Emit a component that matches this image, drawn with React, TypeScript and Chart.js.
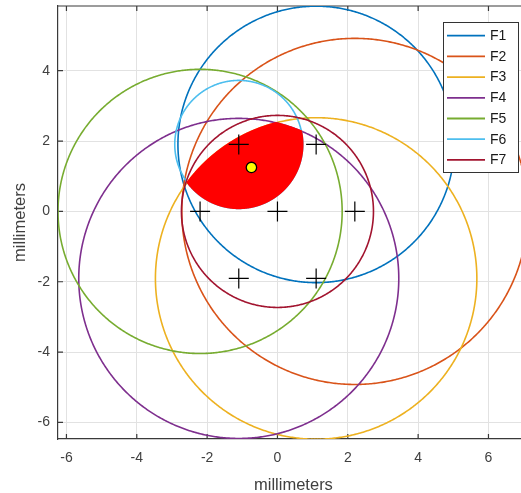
import { useEffect, useRef } from "react";
import { Chart, registerables } from "chart.js";

Chart.register(...registerables);

// Circle series: centre coordinates and radii (millimeters)
const seriesNames = ["F1", "F2", "F3", "F4", "F5", "F6", "F7"];
const centerX = [1.1, 2.2, 1.1, -1.1, -2.2, -1.1, 0];
const centerY = [1.905, 0, -1.905, -1.905, 0, 1.905, 0];
const radii = [3.93, 4.92, 4.57, 4.55, 4.04, 1.82, 2.73];
const seriesColors = ["#0072BD", "#D95319", "#EDB120", "#7E2F8E", "#77AC30", "#4DBEEE", "#A2142F"];

// Sensor positions (plus markers)
const markerX = [-1.1, 1.1, -2.2, 0, 2.2, -1.1, 1.1];
const markerY = [1.905, 1.905, 0, 0, 0, -1.905, -1.905];

// Estimated location (yellow dot)
const estimateX = [-0.74];
const estimateY = [1.25];

// Axes
const xTicks = [-6, -4, -2, 0, 2, 4, 6];
const yTicks = [-6, -4, -2, 0, 2, 4];
const xRange = [-6.24, 6.925];
const xAxisEnd = 7.15; // the axes box continues past the right edge of the canvas
const yRange = [-6.47, 5.84];
const axisLabel = "millimeters";

const FONT = "'Liberation Sans', Arial, Helvetica, sans-serif";
const axisColor = "#3a3a3a";
const textColor = "#404040";
const gridColor = "#e2e2e2";

function circlePoints(i: number) {
  const pts: { x: number; y: number }[] = [];
  const n = 360;
  for (let k = 0; k <= n; k++) {
    const a = (k / n) * Math.PI * 2;
    pts.push({ x: centerX[i] + radii[i] * Math.cos(a), y: centerY[i] + radii[i] * Math.sin(a) });
  }
  return pts;
}

// Outline of the region lying inside every circle, traced by rays from the estimate
function commonRegion() {
  const pts: { x: number; y: number }[] = [];
  const cx = estimateX[0];
  const cy = estimateY[0];
  const n = 720;
  for (let k = 0; k <= n; k++) {
    const a = (k / n) * Math.PI * 2;
    const dx = Math.cos(a);
    const dy = Math.sin(a);
    let t = Infinity;
    for (let i = 0; i < radii.length; i++) {
      const ox = cx - centerX[i];
      const oy = cy - centerY[i];
      const b = dx * ox + dy * oy;
      const c = ox * ox + oy * oy - radii[i] * radii[i];
      const s = -b + Math.sqrt(Math.max(b * b - c, 0));
      t = Math.min(t, s);
    }
    pts.push({ x: cx + t * dx, y: cy + t * dy });
  }
  return pts;
}

const framePlugin = {
  id: "frame",
  beforeDatasetsDraw(chart: any) {
    const { ctx, chartArea: a, scales } = chart;
    const len = 5;
    ctx.save();
    ctx.strokeStyle = axisColor;
    ctx.lineWidth = 1.2;
    ctx.beginPath();
    ctx.moveTo(a.left, a.top);
    ctx.lineTo(a.right, a.top);
    for (const v of xTicks) {
      const px = scales.x.getPixelForValue(v);
      ctx.moveTo(px, a.bottom);
      ctx.lineTo(px, a.bottom - len);
      ctx.moveTo(px, a.top);
      ctx.lineTo(px, a.top + len);
    }
    for (const v of yTicks) {
      const py = scales.y.getPixelForValue(v);
      ctx.moveTo(a.left, py);
      ctx.lineTo(a.left + len, py);
    }
    ctx.stroke();
    ctx.restore();
  },
  afterDraw(chart: any) {
    // x-axis title, centred on the full axes box
    const { ctx, chartArea: a, scales } = chart;
    const x0 = scales.x.getPixelForValue(xRange[0]);
    const x1 = scales.x.getPixelForValue(xAxisEnd);
    ctx.save();
    ctx.font = `16.5px ${FONT}`;
    ctx.fillStyle = textColor;
    ctx.textAlign = "center";
    ctx.textBaseline = "alphabetic";
    ctx.fillText(axisLabel, (x0 + x1) / 2, a.bottom + 51);
    ctx.restore();
  },
};

// Fills the area enclosed by the "region" dataset before its outline is stroked
const regionPlugin = {
  id: "regionFill",
  beforeDatasetDraw(chart: any, args: any) {
    const ds = chart.data.datasets[args.index];
    if (ds.label !== "region") return;
    const pts = args.meta.data;
    if (!pts.length) return;
    const { ctx, chartArea: a } = chart;
    ctx.save();
    ctx.beginPath();
    ctx.rect(a.left, a.top, a.right - a.left, a.bottom - a.top);
    ctx.clip();
    ctx.beginPath();
    ctx.moveTo(pts[0].x, pts[0].y);
    for (let i = 1; i < pts.length; i++) ctx.lineTo(pts[i].x, pts[i].y);
    ctx.closePath();
    ctx.fillStyle = ds.backgroundColor;
    ctx.fill();
    ctx.restore();
  },
};

const legendPlugin = {
  id: "boxLegend",
  afterDraw(chart: any) {
    const { ctx, chartArea: a } = chart;
    const w = 75;
    const h = 150;
    const left = 443;
    const top = a.top + 16;
    ctx.save();
    ctx.fillStyle = "#ffffff";
    ctx.fillRect(left, top, w, h);
    ctx.strokeStyle = "#333333";
    ctx.lineWidth = 1;
    ctx.strokeRect(left + 0.5, top + 0.5, w, h);
    ctx.font = `14px ${FONT}`;
    ctx.textBaseline = "middle";
    ctx.textAlign = "left";
    for (let i = 0; i < seriesNames.length; i++) {
      const y = top + 13.7 + i * 20.7;
      ctx.strokeStyle = seriesColors[i];
      ctx.lineWidth = 1.8;
      ctx.beginPath();
      ctx.moveTo(left + 4, y);
      ctx.lineTo(left + 42, y);
      ctx.stroke();
      ctx.fillStyle = "#1a1a1a";
      ctx.fillText(seriesNames[i], left + 47, y + 0.5);
    }
    ctx.restore();
  },
};

export default function App() {
  const canvasRef = useRef<HTMLCanvasElement | null>(null);

  useEffect(() => {
    if (!canvasRef.current) return;

    const circleSets = seriesNames.map((name, i) => ({
      label: name,
      data: circlePoints(i),
      showLine: true,
      borderColor: seriesColors[i],
      borderWidth: 1.6,
      pointRadius: 0,
      fill: false,
      tension: 0.001,
      order: 20 - i,
    }));

    const chart = new Chart(canvasRef.current, {
      type: "scatter",
      data: {
        datasets: [
          {
            label: "estimate",
            data: estimateX.map((x, i) => ({ x, y: estimateY[i] })),
            pointRadius: 5.2,
            pointBackgroundColor: "#ffff00",
            pointBorderColor: "#000000",
            pointBorderWidth: 1.3,
            order: 1,
          },
          {
            label: "sensors",
            data: markerX.map((x, i) => ({ x, y: markerY[i] })),
            pointStyle: "cross",
            pointRadius: 10,
            pointBorderColor: "#000000",
            pointBorderWidth: 1.2,
            order: 2,
          },
          {
            label: "region",
            data: commonRegion(),
            showLine: true,
            borderColor: "#ff0000",
            borderWidth: 1.5,
            backgroundColor: "#ff0000",
            pointRadius: 0,
            fill: false,
            tension: 0.001,
            order: 5,
          },
          ...circleSets,
        ] as any,
      },
      options: {
        animation: false,
        responsive: false,
        maintainAspectRatio: false,
        events: [],
        layout: { autoPadding: false, padding: { top: 6, right: 0, left: 0, bottom: 0 } },
        plugins: {
          legend: { display: false },
          tooltip: { enabled: false },
        },
        scales: {
          x: {
            type: "linear",
            min: xRange[0],
            max: xRange[1],
            afterBuildTicks: (s: any) => {
              s.ticks = xTicks.map((v) => ({ value: v }));
            },
            afterFit: (s: any) => {
              s.height = 54;
              s.paddingLeft = 0;
              s.paddingRight = 0;
            },
            grid: { color: gridColor, drawTicks: false, lineWidth: 1 },
            border: { color: axisColor, width: 1.2 },
            ticks: { font: { family: FONT, size: 14 }, color: textColor, padding: 11, maxRotation: 0, autoSkip: false },
            title: { display: false },
          },
          y: {
            type: "linear",
            min: yRange[0],
            max: yRange[1],
            afterBuildTicks: (s: any) => {
              s.ticks = yTicks.map((v) => ({ value: v }));
            },
            afterFit: (s: any) => {
              s.width = 58;
              s.paddingTop = 0;
              s.paddingBottom = 0;
            },
            grid: { color: gridColor, drawTicks: false, lineWidth: 1 },
            border: { color: axisColor, width: 1.2 },
            ticks: { font: { family: FONT, size: 14 }, color: textColor, padding: 8, autoSkip: false },
            title: {
              display: true,
              text: axisLabel,
              font: { family: FONT, size: 16.5 },
              color: textColor,
              padding: { top: 11, bottom: 0 },
            },
          },
        },
      },
      plugins: [framePlugin, regionPlugin, legendPlugin],
    });

    return () => chart.destroy();
  }, []);

  return (
    <div style={{ position: "fixed", left: 0, top: 0, width: 521, height: 493, background: "#ffffff" }}>
      <canvas ref={canvasRef} width={521} height={493} style={{ display: "block" }} />
    </div>
  );
}
